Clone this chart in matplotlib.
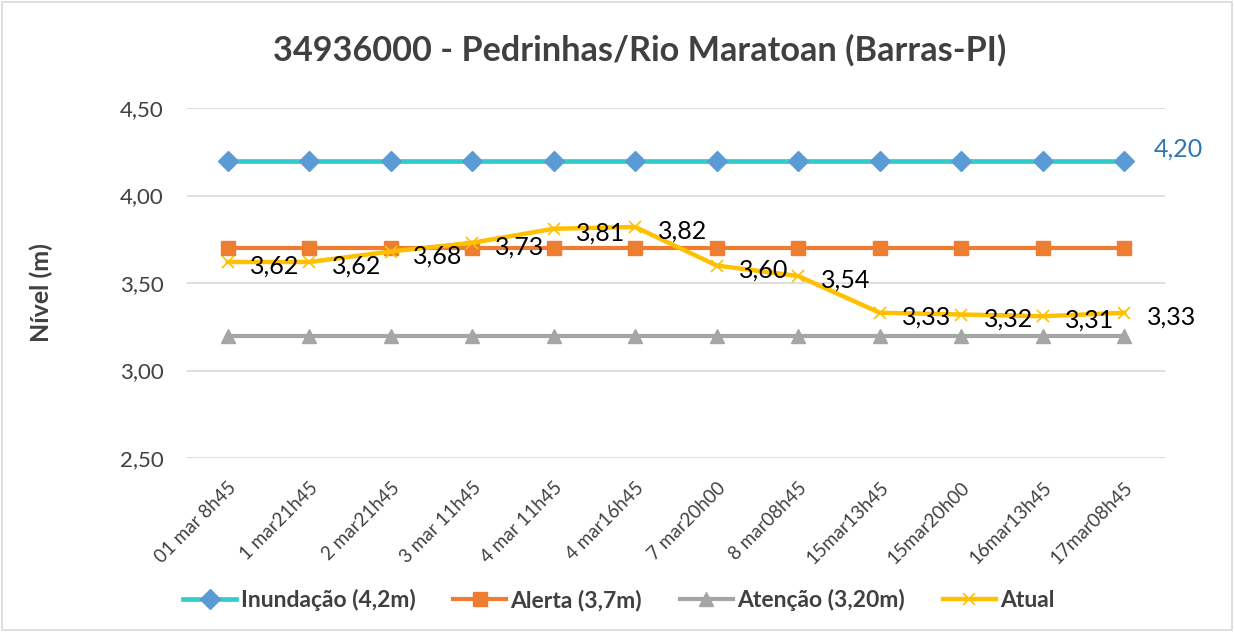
import numpy as np
import matplotlib
matplotlib.use('Agg')
from matplotlib import pyplot as plt
from matplotlib.patches import Rectangle

plt.rcParams['font.family'] = ['Lato', 'DejaVu Sans']

categorias = ['01 mar 8h45', '1 mar21h45', '2 mar21h45', '3 mar 11h45', '4 mar 11h45',
              '4 mar16h45', '7 mar20h00', '8 mar08h45', '15mar13h45', '15mar20h00',
              '16mar13h45', '17mar08h45']
inundacao = [4.2] * 12
alerta = [3.7] * 12
atencao = [3.2] * 12
atual = [3.62, 3.62, 3.68, 3.73, 3.81, 3.82, 3.60, 3.54, 3.33, 3.32, 3.31, 3.33]
yticks = [2.5, 3.0, 3.5, 4.0, 4.5]

fig = plt.figure(figsize=(12.34, 6.32), dpi=100)
ax = fig.add_axes([187/1234, 1 - 458/632, 978/1234, 350/632])
x = np.arange(len(categorias))

ax.plot(x, inundacao, color='#33CCCC', lw=3.4, marker='D', ms=10,
        mfc='#5B9BD5', mec='#5B9BD5', label='Inundação (4,2m)', zorder=3)
ax.plot(x, alerta, color='#ED7D31', lw=3, marker='s', ms=10.5,
        mfc='#ED7D31', mec='#ED7D31', label='Alerta (3,7m)', zorder=3)
ax.plot(x, atencao, color='#A5A5A5', lw=3, marker='^', ms=10,
        mfc='#A5A5A5', mec='#A5A5A5', label='Atenção (3,20m)', zorder=3)
ax.plot(x, atual, color='#FFC000', lw=3.2, marker='x', ms=9, mew=1.2,
        mec='#FFC000', label='Atual', zorder=4)

for xi, v in zip(x, atual):
    ax.annotate(f'{v:.2f}'.replace('.', ','), (xi, v), xytext=(16, -3),
                textcoords='offset points', ha='left', va='center',
                fontsize=18, color='black', zorder=5)
ax.annotate('4,20', (x[-1], inundacao[-1]), xytext=(21, 8),
            textcoords='offset points', ha='left', va='center',
            fontsize=18, color='#2E75B6')

ax.set_xlim(-0.5, len(categorias) - 0.5)
ax.set_ylim(2.5, 4.5)
ax.set_yticks(yticks)
ax.set_yticklabels([f'{t:.2f}'.replace('.', ',') for t in yticks], fontsize=16, color='#404040')
ax.set_xticks(x)
ax.set_xticklabels(categorias, rotation=45, ha='right', rotation_mode='anchor',
                   fontsize=13.5, color='#404040')
ax.tick_params(axis='y', length=0, pad=17)
ax.tick_params(axis='x', length=0, pad=15)
ax.grid(axis='y', color='#D9D9D9', lw=1.2)
ax.set_axisbelow(True)
for s in ax.spines.values():
    s.set_visible(False)

fig.text(41/1234, 1 - 293/632, 'Nível (m)', rotation=90, ha='center', va='center',
         fontsize=18, fontweight='bold', color='#404040')
fig.text(640/1234, 1 - 50/632, '34936000 - Pedrinhas/Rio Maratoan (Barras-PI)',
         ha='center', va='center', fontsize=24.7, fontweight='bold', color='#404040')

leg = fig.legend(loc='center', bbox_to_anchor=(619/1234, 1 - 600/632), ncol=4, frameon=False,
                 prop={'size': 16.5, 'weight': 'bold'}, handlelength=2.3,
                 columnspacing=1.65, handletextpad=0.2)
for t in leg.get_texts():
    t.set_color('#404040')

fig.patches.append(Rectangle((0.002, 0.003), 0.996, 0.994, transform=fig.transFigure,
                             fill=False, ec='#D9D9D9', lw=1.2))

fig.savefig('out.png', dpi=100)
